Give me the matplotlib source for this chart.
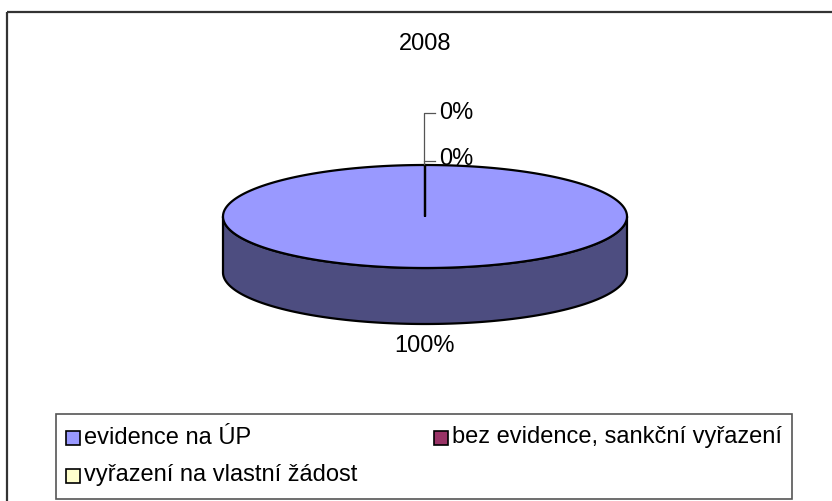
import numpy as np
import matplotlib
matplotlib.use("Agg")
import matplotlib.pyplot as plt
from matplotlib.patches import Polygon, Rectangle

plt.rcParams['font.family'] = ['Liberation Sans', 'DejaVu Sans']

title = "2008"
categories = ["evidence na ÚP", "bez evidence, sankční vyřazení", "vyřazení na vlastní žádost"]
values = [100, 0, 0]
top_colors = ["#9999FF", "#993366", "#FFFFCC"]
side_colors = ["#4D4D80", "#4D1A33", "#808066"]

W, H = 832, 501
fig = plt.figure(figsize=(W / 100, H / 100), dpi=100)
ax = fig.add_axes([0, 0, 1, 1])
ax.set_xlim(0, W)
ax.set_ylim(H, 0)
ax.axis("off")

# outer frame
ax.add_patch(Rectangle((7, 12), 850, 520, fill=False, ec="#333333", lw=1.6, zorder=1))

# pie geometry (pixel space, y down)
cx, cy, a, b, depth = 425, 216.5, 202, 51.5, 56

total = float(sum(values))
fracs = [v / total for v in values]
start = -np.pi / 2  # 12 o'clock, clockwise
angles = []
t0 = start
for f in fracs:
    angles.append((t0, t0 + 2 * np.pi * f))
    t0 += 2 * np.pi * f

def arc(t1, t2, n=300, dy=0.0):
    t = np.linspace(t1, t2, n)
    return np.column_stack([cx + a * np.cos(t), cy + dy + b * np.sin(t)])

# sides (front half: t in [0, pi] mod 2pi)
for (t1, t2), col in zip(angles, side_colors):
    if t2 - t1 <= 0:
        continue
    for k in range(-1, 2):
        lo = max(t1, 2 * np.pi * k)
        hi = min(t2, 2 * np.pi * k + np.pi)
        if hi > lo:
            top = arc(lo, hi)
            bot = arc(hi, lo, dy=depth)
            ax.add_patch(Polygon(np.vstack([top, bot]), closed=True, fc=col,
                                 ec="black", lw=1.6, zorder=2))

# tops
for (t1, t2), col in zip(angles, top_colors):
    if t2 - t1 <= 0:
        continue
    pts = np.vstack([[cx, cy], arc(t1, t2, n=600), [cx, cy]])
    ax.add_patch(Polygon(pts, closed=True, fc=col, ec="black", lw=1.6, zorder=3))

# labels
fs = 17
ax.text(cx, 346, f"{values[0] / total:.0%}", ha="center", va="center", fontsize=fs, zorder=5)
ax.plot([cx - 1, cx - 1, 435], [164, 113, 113], color="#555555", lw=0.9, zorder=4)
ax.plot([cx - 1, 435], [161, 161], color="#555555", lw=0.9, zorder=4)
ax.text(439, 113, f"{values[1] / total:.0%}", ha="left", va="center", fontsize=fs, zorder=5)
ax.text(439, 159, f"{values[2] / total:.0%}", ha="left", va="center", fontsize=fs, zorder=5)

ax.text(cx, 44, title, ha="center", va="center", fontsize=fs)

# legend (row-major, two columns)
ax.add_patch(Rectangle((56, 414), 736, 85, fill=False, ec="#555555", lw=1.2, zorder=4))
col_x = [66, 434]
row_y = [437.5, 475.5]
msz = 14
for i, (lab, col) in enumerate(zip(categories, top_colors)):
    x = col_x[i % 2]
    y = row_y[i // 2]
    ax.add_patch(Rectangle((x, y - msz / 2), msz, msz, fc=col, ec="black", lw=1.2, zorder=5))
    ax.text(x + msz + 4, y, lab, ha="left", va="center", fontsize=fs, zorder=5)

fig.savefig("out.png", dpi=100)
